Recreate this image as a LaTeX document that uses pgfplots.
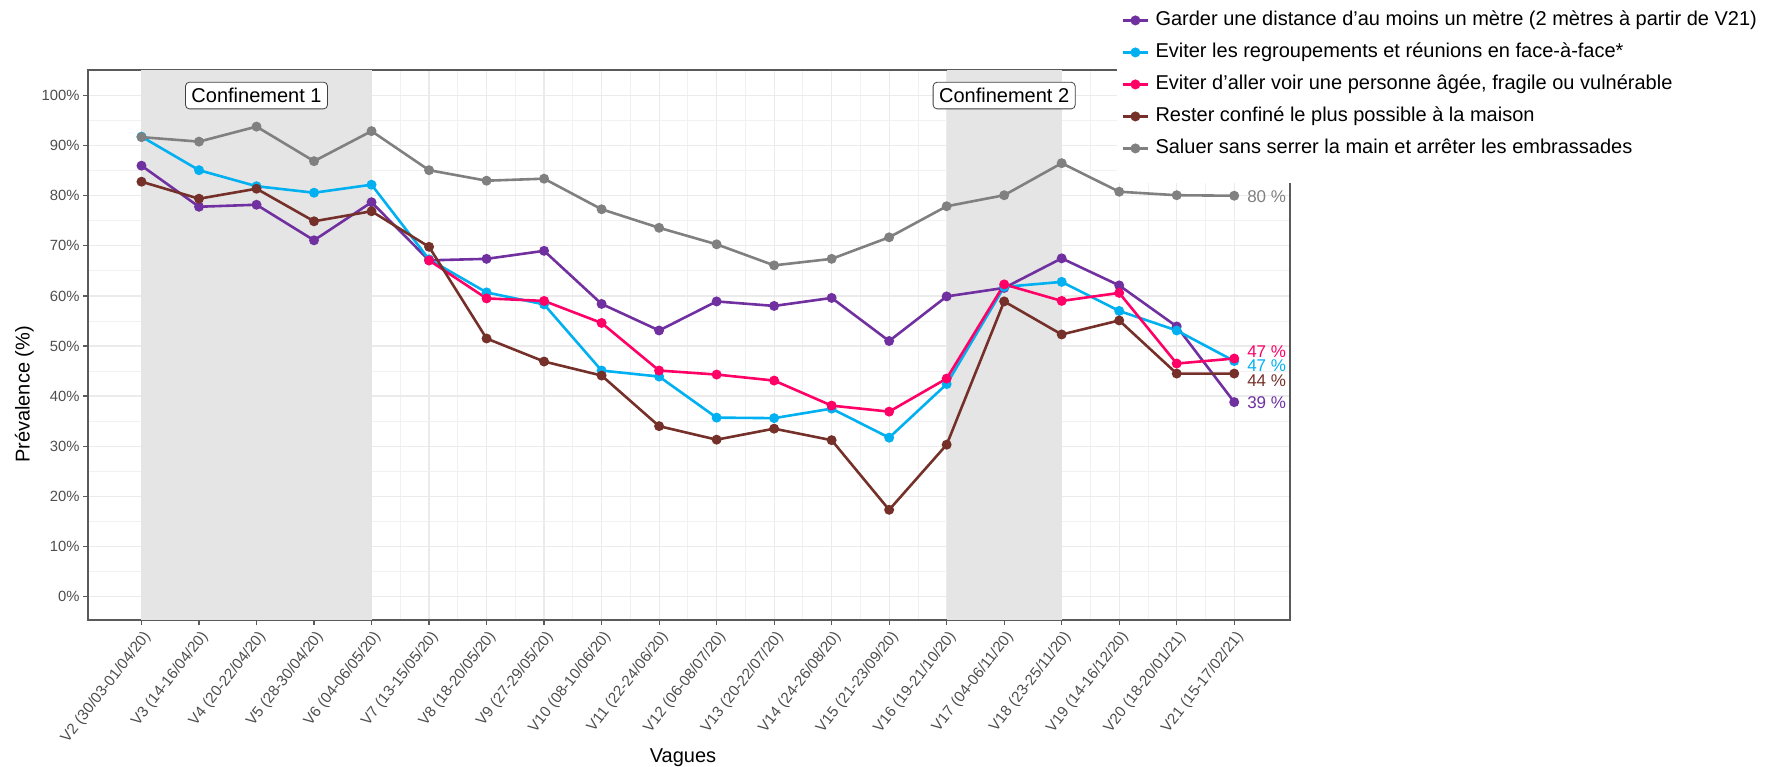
\documentclass[border=0pt]{standalone}
\usepackage{pgfplots}
\pgfplotsset{compat=1.18}
\usepackage{pgfplotstable}
\usepackage{fontspec}
\setmainfont{Liberation Sans}
\definecolor{cpurple}{HTML}{7030A0}
\definecolor{cblue}{HTML}{00B0F0}
\definecolor{cpink}{HTML}{FF0066}
\definecolor{cbrown}{HTML}{75302A}
\definecolor{cgray}{HTML}{808080}
\definecolor{cshade}{HTML}{E5E5E5}
\definecolor{gridc}{HTML}{EBEBEB}
\definecolor{tickc}{HTML}{4D4D4D}
\definecolor{framec}{HTML}{5A5A5A}

\pgfplotstableread{
x purple blue pink brown gray
0 86.0 91.8 nan 82.8 91.7
1 77.8 85.1 nan 79.4 90.8
2 78.2 81.9 nan 81.4 93.8
3 71.1 80.6 nan 74.9 86.9
4 78.7 82.2 nan 76.9 92.9
5 67.1 67.3 67.1 69.8 85.1
6 67.4 60.7 59.5 51.5 83.0
7 69.0 58.3 59.0 46.9 83.4
8 58.4 45.1 54.6 44.1 77.3
9 53.1 43.9 45.1 34.0 73.6
10 58.9 35.7 44.3 31.3 70.3
11 58.0 35.6 43.1 33.5 66.1
12 59.6 37.5 38.1 31.2 67.4
13 51.0 31.7 36.9 17.3 71.7
14 59.9 42.4 43.5 30.3 77.9
15 61.6 61.8 62.3 58.9 80.1
16 67.5 62.8 59.0 52.3 86.5
17 62.1 57.0 60.6 55.1 80.8
18 53.9 53.1 46.5 44.5 80.1
19 38.8 47.0 47.5 44.5 80.0
}\data

\begin{document}
\begin{tikzpicture}
\path[use as bounding box] (-44pt,-73pt) rectangle (841.5pt,310pt);
\begin{axis}[
  at={(0,0)}, anchor=south west,
  scale only axis, width=601pt, height=275pt,
  xmin=-0.93, xmax=19.97, ymin=-4.7, ymax=105.1,
  xtick={0,...,19},
  xticklabels={V2 (30/03-01/04/20), V3 (14-16/04/20), V4 (20-22/04/20), V5 (28-30/04/20), V6 (04-06/05/20), V7 (13-15/05/20), V8 (18-20/05/20), V9 (27-29/05/20), V10 (08-10/06/20), V11 (22-24/06/20), V12 (06-08/07/20), V13 (20-22/07/20), V14 (24-26/08/20), V15 (21-23/09/20), V16 (19-21/10/20), V17 (04-06/11/20), V18 (23-25/11/20), V19 (14-16/12/20), V20 (18-20/01/21), V21 (15-17/02/21)},
  ytick={0,10,...,100},
  yticklabel={\pgfmathprintnumber{\tick}\%},
  minor x tick num=1, minor y tick num=1,
  grid=both,
  major grid style={draw=gridc, line width=0.6pt},
  minor grid style={draw=gridc!70!white, line width=0.4pt},
  minor tick length=0pt,
  major tick length=2.5pt,
  tick align=outside,
  xtick pos=left, ytick pos=left,
  tick style={draw=framec, line width=0.6pt},
  axis line style={draw=framec, line width=0.7pt},
  /pgf/number format/assume math mode=true,
  ticklabel style={font=\fontsize{7.4}{9}\selectfont, text=tickc},
  y tick label style={inner sep=1.5pt},
  x tick label style={rotate=52, anchor=north east, inner sep=1.5pt, font=\fontsize{7.6}{9}\selectfont},
  xlabel={Vagues}, ylabel={Prévalence (\%)},
  label style={font=\fontsize{10}{12}\selectfont},
  every axis x label/.append style={at={(axis description cs:0.495,-0.251)}, anchor=center},
  every axis y label/.append style={at={(axis description cs:-0.053,0.41)}, anchor=center, rotate=0},
  legend cell align=left,
  legend style={at={(rel axis cs:0.856,1.1545)}, anchor=north west, draw=none, fill=white,
    font=\fontsize{10}{12}\selectfont, inner xsep=2pt, inner ysep=9.5pt, row sep=0pt,
    nodes={text height=7.5pt, text depth=2.5pt, inner sep=3pt}},
  legend image code/.code={\draw[mark repeat=2,mark phase=2] plot coordinates {(0cm,0cm) (0.225cm,0cm) (0.45cm,0cm)};},
  every axis plot/.append style={line width=1.3pt, mark=*, mark size=1.8pt},
]
\fill[cshade] (axis cs:0,-4.7) rectangle (axis cs:4,105.1);
\fill[cshade] (axis cs:14,-4.7) rectangle (axis cs:16,105.1);
\addplot[color=cpurple] table[x=x, y=purple] {\data};
\addlegendentry{Garder une distance d'au moins un mètre (2 mètres à partir de V21)}
\addplot[color=cblue] table[x=x, y=blue] {\data};
\addlegendentry{Eviter les regroupements et réunions en face-à-face*}
\addplot[color=cpink] table[x=x, y=pink] {\data};
\addlegendentry{Eviter d'aller voir une personne âgée, fragile ou vulnérable}
\addplot[color=cbrown] table[x=x, y=brown] {\data};
\addlegendentry{Rester confiné le plus possible à la maison}
\addplot[color=cgray] table[x=x, y=gray] {\data};
\addlegendentry{Saluer sans serrer la main et arrêter les embrassades}
\node[draw=black!75, fill=white, rounded corners=2pt, inner sep=3pt, font=\fontsize{10}{12}\selectfont] at (axis cs:2,100) {Confinement 1};
\node[draw=black!75, fill=white, rounded corners=2pt, inner sep=3pt, font=\fontsize{10}{12}\selectfont] at (axis cs:15,100) {Confinement 2};
\begin{scope}[every node/.style={anchor=west, xshift=3pt, font=\fontsize{8.5}{10}\selectfont}]
\node[text=cgray] at (axis cs:19,79.8) {80 \%};
\node[text=cpink] at (axis cs:19,48.8) {47 \%};
\node[text=cblue] at (axis cs:19,46.1) {47 \%};
\node[text=cbrown] at (axis cs:19,43.1) {44 \%};
\node[text=cpurple] at (axis cs:19,38.6) {39 \%};
\end{scope}
\end{axis}
\end{tikzpicture}
\end{document}
